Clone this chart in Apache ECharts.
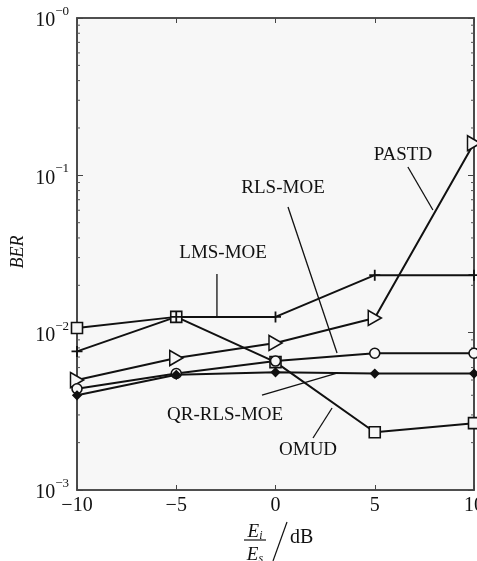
<!DOCTYPE html>
<html><head><meta charset="utf-8">
<script src="https://cdn.jsdelivr.net/npm/echarts@6/dist/echarts.min.js"></script>
<style>html,body{margin:0;padding:0;background:#fff}#c{width:477px;height:561px}</style>
</head><body><div id="c"></div>
<script>
// ---- data ----
const xValues = [-10, -5, 0, 5, 10];
const omud     = [0.0107, 0.0126, 0.0065, 0.00233, 0.00266];
const lmsMoe   = [0.0076, 0.0126, 0.0126, 0.0232, 0.0232];
const pastd    = [0.0050, 0.0069, 0.0086, 0.0124, 0.160];
const rlsMoe   = [0.0044, 0.0055, 0.0066, 0.0074, 0.0074];
const qrRlsMoe = [0.0040, 0.0054, 0.0056, 0.0055, 0.0055];
const xTicks = [-10, -5, 0, 5, 10];
const yDecades = [0.001, 0.01, 0.1, 1];
// annotations in data units
const annLabels = ['PASTD', 'RLS-MOE', 'LMS-MOE', 'QR-RLS-MOE', 'OMUD'];
const annText  = [[6.42, 0.1346], [0.38, 0.0830], [-2.64, 0.0321], [-2.54, 0.00299], [1.64, 0.001795]];
const annFrom  = [[6.67, 0.113], [0.63, 0.0629], [-2.95, 0.02359], [-0.68, 0.00401], [1.89, 0.00214]];
const annTo    = [[7.93, 0.0602], [3.10, 0.00742], [-2.95, 0.01257], [3.10, 0.00553], [2.85, 0.00332]];

const minorVals = [];
[0.001, 0.01, 0.1].forEach(d => { for (let m = 2; m <= 9; m++) minorVals.push(+(m * d).toPrecision(3)); });

const FONT = '"Liberation Serif", "Times New Roman", serif';
const BG = '#f7f7f7';
const pair = arr => xValues.map((x, i) => [x, arr[i]]);

const chart = echarts.init(document.getElementById('c'), null, {renderer: 'canvas'});
const sup = v => {
  const e = Math.round(Math.log10(v));
  return '{b|10}{s|−' + Math.abs(e) + '}';
};
const baseSeries = (name, data, symbol, size, filled) => ({
  name, type: 'line', data: pair(data), symbol, symbolSize: size,
  lineStyle: {color: '#111', width: 2},
  itemStyle: {color: filled ? '#111' : BG, borderColor: '#111', borderWidth: 1.6},
  z: 3
});
const axisLine = {show: true, onZero: false, lineStyle: {color: '#444', width: 1.6}};
const option = {
  animation: false,
  backgroundColor: '#fff',
  grid: {left: 77, top: 18, right: 3, bottom: 71, show: true, backgroundColor: BG, borderColor: '#444', borderWidth: 1.6,
         containLabel: false, outerBoundsMode: 'none'},
  xAxis: [{
    type: 'value', min: -10, max: 10, interval: 5,
    axisLine: axisLine,
    axisTick: {inside: true, length: 5, lineStyle: {color: '#444'}},
    splitLine: {show: false},
    axisLabel: {fontFamily: FONT, fontSize: 20, color: '#111', margin: 6,
      formatter: v => (v < 0 ? '−' + Math.abs(v) : '' + v)}
  }, {
    type: 'value', min: -10, max: 10, interval: 5, position: 'top',
    axisLine: axisLine,
    axisTick: {inside: true, length: 5, lineStyle: {color: '#444'}},
    splitLine: {show: false}, axisLabel: {show: false}
  }],
  yAxis: [{
    type: 'log', logBase: 10, min: 0.001, max: 1,
    axisLine: axisLine,
    axisTick: {inside: true, length: 6, lineStyle: {color: '#444'}},
    splitLine: {show: false},
    axisLabel: {fontFamily: FONT, color: '#111', margin: 8, formatter: sup,
      rich: {b: {fontFamily: FONT, fontSize: 20, color: '#111', lineHeight: 26, verticalAlign: 'bottom'},
             s: {fontFamily: FONT, fontSize: 13, color: '#111', lineHeight: 26, verticalAlign: 'top'}}}
  }, {
    type: 'log', logBase: 10, min: 0.001, max: 1, position: 'right',
    axisLine: axisLine,
    axisTick: {inside: true, length: 6, lineStyle: {color: '#444'}},
    splitLine: {show: false}, axisLabel: {show: false}
  }],
  series: [
    baseSeries('OMUD', omud, 'rect', 11, false),
    Object.assign(baseSeries('LMS-MOE', lmsMoe, 'path://M5,0 L5,10 M0,5 L10,5', 11, false), {itemStyle: {color: 'none', borderColor: '#111', borderWidth: 1.8}}),
    baseSeries('PASTD', pastd, 'path://M0,0 L10,5 L0,10 Z', [13, 15], false),
    baseSeries('RLS-MOE', rlsMoe, 'circle', 10, false),
    baseSeries('QR-RLS-MOE', qrRlsMoe, 'diamond', 8, true),
    {
      type: 'custom', data: minorVals.map(v => [0, v]), silent: true, z: 2,
      renderItem: (params, api) => {
        const v = api.value(1);
        const L = api.coord([-10, v]);
        const R = api.coord([10, v]);
        return {type: 'group', children: [
          {type: 'line', shape: {x1: L[0], y1: L[1], x2: L[0] + 3, y2: L[1]}, style: {stroke: '#555', lineWidth: 1}},
          {type: 'line', shape: {x1: R[0] - 3, y1: R[1], x2: R[0], y2: R[1]}, style: {stroke: '#555', lineWidth: 1}}
        ]};
      }
    }
  ]
};
chart.setOption(option);

// annotations, converted from data units through the chart's own scales
const px = p => chart.convertToPixel({xAxisIndex: 0, yAxisIndex: 0}, p);
const graphics = [];
annLabels.forEach((t, i) => {
  const tp = px(annText[i]), a = px(annFrom[i]), b = px(annTo[i]);
  graphics.push({type: 'text', x: tp[0], y: tp[1], z: 10,
    style: {text: t, font: '19px ' + FONT, fill: '#111', align: 'center', verticalAlign: 'middle'}});
  graphics.push({type: 'line', z: 10, shape: {x1: a[0], y1: a[1], x2: b[0], y2: b[1]}, style: {stroke: '#111', lineWidth: 1.3}});
});
// axis titles
graphics.push({type: 'text', x: 18, y: 252, rotation: Math.PI / 2, z: 10,
  style: {text: 'BER', font: 'italic 18px ' + FONT, fill: '#111', align: 'center', verticalAlign: 'middle'}});
const fracRich = {e: {font: 'italic 19px ' + FONT, fill: '#111'}, i: {font: 'italic 12px ' + FONT, fill: '#111', verticalAlign: 'bottom', padding: [8, 0, 0, 0]}};
graphics.push({type: 'text', x: 255, y: 532, z: 10,
  style: {text: '{e|E}{i|i}', font: 'italic 19px ' + FONT, fill: '#111', align: 'center', verticalAlign: 'middle', rich: fracRich}});
graphics.push({type: 'line', z: 10, shape: {x1: 244, y1: 540, x2: 266, y2: 540}, style: {stroke: '#111', lineWidth: 1.2}});
graphics.push({type: 'text', x: 255, y: 555, z: 10,
  style: {text: '{e|E}{i|s}', font: 'italic 19px ' + FONT, fill: '#111', align: 'center', verticalAlign: 'middle', rich: fracRich}});
graphics.push({type: 'line', z: 10, shape: {x1: 287, y1: 522, x2: 273, y2: 561}, style: {stroke: '#111', lineWidth: 1.2}});
graphics.push({type: 'text', x: 290, y: 538, z: 10,
  style: {text: 'dB', font: '20px ' + FONT, fill: '#111', align: 'left', verticalAlign: 'middle'}});
chart.setOption({graphic: graphics});
</script></body></html>
